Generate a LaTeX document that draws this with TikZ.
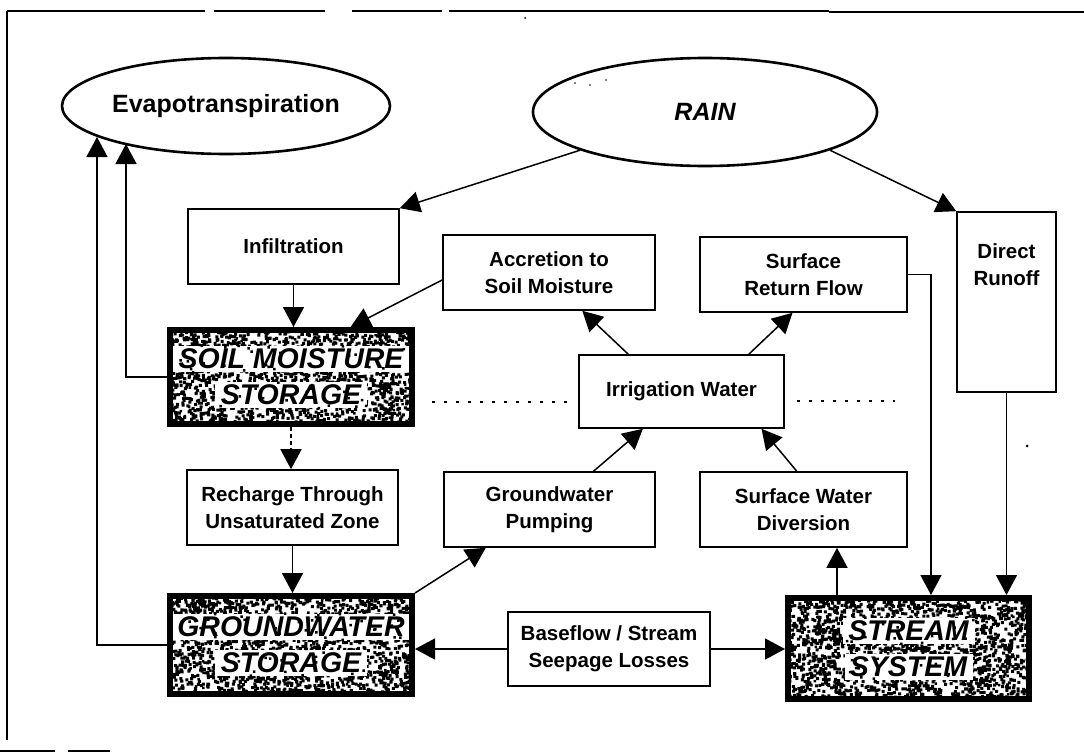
\documentclass[tikz,border=0pt]{standalone}
\usepackage{fontspec}
\setmainfont{Liberation Sans}
\usetikzlibrary{arrows.meta,calc,shapes.geometric}

\newcommand\boxfont{\fontsize{20.5}{27}\selectfont\bfseries}
\newcommand\storefont{\fontsize{28.5}{36}\selectfont\bfseries\itshape}
\newcommand\ovalfont{\fontsize{25}{30}\selectfont\bfseries}

\tikzset{
  flowbox/.style={draw, line width=1.6pt, inner sep=0pt, align=center, font=\boxfont},
  oval/.style={draw, ellipse, line width=2.6pt, inner sep=0pt, font=\ovalfont},
  flow/.style={line width=1.5pt, -{Triangle[length=20pt,width=21pt]}},
  store/.style 2 args={draw, line width=6pt, inner sep=0pt, align=center,
    font=\storefont, minimum width=#1, minimum height=#2},
  scanline/.style={line width=1.4pt, dash pattern=on 3pt off 9pt},
}

% random speckle inside a node's path picture: seed, width, height, count, grain
\newcommand\speckles[5]{%
  \pgfmathsetseed{#1}%
  \fill \foreach \k in {1,...,#4}{
    ($(path picture bounding box.south west)+({rnd*(#2)},{rnd*(#3)})$) rectangle ++(#5,#5) };}
% white band kept clear behind one line of a label: line offset, half width
\newcommand\clearband[2]{%
  \fill[white] ($(path picture bounding box.center)+({-#2},{#1-13pt})$)
    rectangle ($(path picture bounding box.center)+({#2},{#1+13pt})$);}

\begin{document}
\begin{tikzpicture}[x=1pt,y=-1pt]
\useasboundingbox (0,0) rectangle (1084,752);

% page frame
\draw[line width=1.2pt] (7,11) -- (205,11) (214,11) -- (325,11) (352,11) -- (442,11)
  (449,11) -- (829,11) (829,12) -- (1084,12);
\draw[line width=1.2pt] (7,11) -- (7,740);
\draw[line width=1.6pt] (0,751) -- (55,751) (68,751) -- (110,751);

% sources and sinks
\node[oval, minimum width=328pt, minimum height=96pt] (evap) at (226,106) {Evapotranspiration};
\node[oval, minimum width=344pt, minimum height=108pt, font=\ovalfont\itshape] (rain) at (705,112) {RAIN};

% flow boxes
\node[flowbox, minimum width=211pt, minimum height=75pt] (infil) at (293.5,246.5) {Infiltration};
\node[flowbox, minimum width=212pt, minimum height=75pt] (accr) at (549,272.5) {Accretion to\\Soil Moisture};
\node[flowbox, minimum width=207pt, minimum height=75pt] (surfret) at (803.5,274.5) {Surface\\Return Flow};
\node[flowbox, minimum width=99pt, minimum height=180pt] (direct) at (1006.5,302) {};
\node[font=\boxfont, align=center] (directtxt) at (1006.5,265) {Direct\\Runoff};
\node[flowbox, minimum width=205pt, minimum height=73pt] (irrig) at (681.5,391.5) {Irrigation Water};
\node[flowbox, minimum width=211pt, minimum height=75pt] (rech) at (292.5,507.5) {Recharge Through\\Unsaturated Zone};
\node[flowbox, minimum width=211pt, minimum height=75pt] (pump) at (549.5,509.5) {Groundwater\\Pumping};
\node[flowbox, minimum width=207pt, minimum height=75pt] (divers) at (803.5,509.5) {Surface Water\\Diversion};
\node[flowbox, minimum width=202pt, minimum height=74pt] (base) at (609,649) {Baseflow / Stream\\Seepage Losses};

% storages: thick frame, speckled fill, clear bands behind the lettering
\node[store={242pt}{94pt}, path picture={
    \speckles{11}{242pt}{94pt}{1700}{3pt}
    \clearband{18pt}{118pt}\clearband{-18pt}{76pt}
    \speckles{12}{242pt}{94pt}{110}{2.5pt}
  }] (soil) at (291,377) {SOIL MOISTURE\\STORAGE};
\node[store={242pt}{98pt}, path picture={
    \speckles{23}{242pt}{98pt}{1750}{3pt}
    \clearband{18pt}{121pt}\clearband{-18pt}{76pt}
    \speckles{24}{242pt}{98pt}{110}{2.5pt}
  }] (gw) at (291,645) {GROUNDWATER\\STORAGE};
\node[store={241pt}{101pt}, path picture={
    \speckles{37}{241pt}{101pt}{1800}{3pt}
    \clearband{18pt}{66pt}\clearband{-18pt}{64pt}
    \speckles{38}{241pt}{101pt}{110}{2.5pt}
  }] (stream) at (908.5,648.5) {STREAM\\SYSTEM};

% helper points
\coordinate (et1) at (97,137);
\coordinate (et2) at (126,144);
\coordinate (srx) at (931,0);
\coordinate (upx) at (837,0);

% connectors
\draw[flow] (rain.197) -- (infil.north east);
\draw[flow] (rain.-17) -- (direct.north west);
\draw[flow] (infil.south) -- (infil.south |- soil.north);
\draw[flow] (accr.184) -- (soil.40);
\draw[flow] (soil.west) -| (et2);
\draw[flow] (gw.west) -| (et1);
\draw[flow, dash pattern=on 4pt off 3pt] (soil.south) -- (soil.south |- rech.north);
\draw[flow] (rech.south) -- (rech.south |- gw.north);
\draw[flow] (gw.north east) -- (pump.-149);
\draw[flow] (pump.41) -- (irrig.-136);
\draw[flow] (divers.100) -- (irrig.-25);
\draw[flow] (irrig.145) -- (accr.-49);
\draw[flow] (irrig.29) -- (surfret.-106);
\draw[flow] (surfret.east) -| (srx |- stream.north);
\draw[flow] (direct.south) -- (direct.south |- stream.north);
\draw[flow] (upx |- stream.north) -- (upx |- divers.south);
\draw[flow] (base.west) -- (base.west -| gw.east);
\draw[flow] (base.east) -- (base.east -| stream.west);

% faint dotted lines and specks
\draw[scanline] (432,402) -- (567,402);
\draw[scanline] (797,401) -- (895,401);
\fill (1027,446) circle (1.5pt);
\fill (525,18) circle (1pt);
\fill (575,83) circle (0.9pt);
\fill (590,85) circle (0.9pt);
\fill (606,80) circle (0.9pt);
\end{tikzpicture}
\end{document}
